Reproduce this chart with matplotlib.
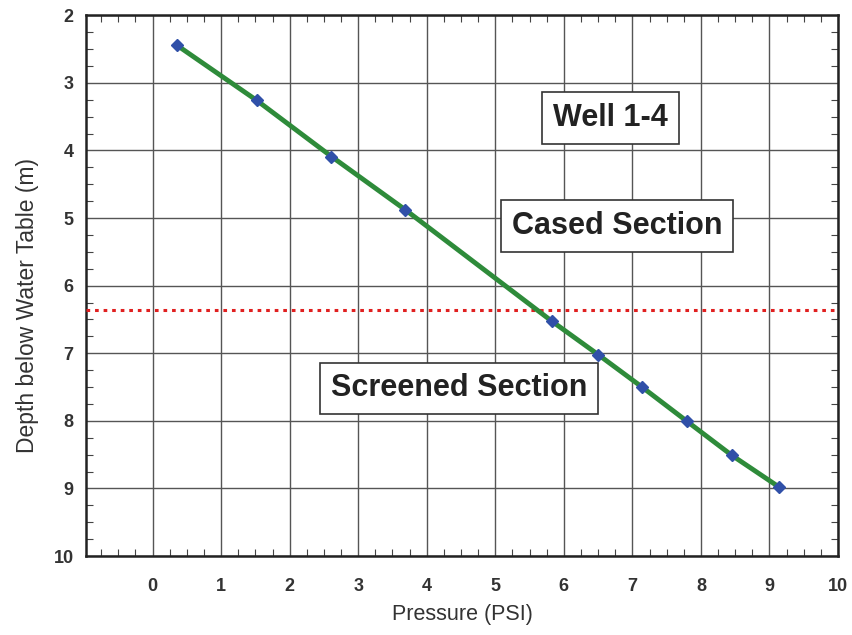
import matplotlib.pyplot as plt
from matplotlib.ticker import MultipleLocator

plt.rcParams['font.family'] = ['Liberation Sans', 'DejaVu Sans']

# pressure readings down the well
pressure = [0.35, 1.52, 2.61, 3.69, 5.83, 6.50, 7.14, 7.80, 8.45, 9.14]
depth = [2.44, 3.26, 4.09, 4.88, 6.53, 7.02, 7.50, 8.01, 8.51, 8.98]
casing_bottom = 6.36

x_ticks = list(range(0, 11))
y_ticks = list(range(2, 11))

fig = plt.figure(figsize=(8.52, 6.35), dpi=100)
ax = fig.add_axes([0.101, 0.1244, 0.8826, 0.8516])

ax.set_xlim(-0.97, 10)
ax.set_ylim(10, 2)
ax.set_xticks(x_ticks)
ax.set_yticks(y_ticks)
ax.xaxis.set_minor_locator(MultipleLocator(0.25))
ax.yaxis.set_minor_locator(MultipleLocator(0.25))

ax.grid(True, which='major', color='#555555', linewidth=1.0)

ax.tick_params(which='both', direction='in', top=True, right=True,
               labeltop=False, labelright=False)
ax.tick_params(which='major', length=0)
ax.tick_params(which='minor', length=5, width=0.8, color='#444444')
ax.tick_params(axis='x', pad=16, labelsize=13, labelcolor='#333333')
ax.tick_params(axis='y', pad=9, labelsize=13, labelcolor='#333333')
for lab in ax.get_xticklabels() + ax.get_yticklabels():
    lab.set_fontweight('bold')

for s in ax.spines.values():
    s.set_linewidth(1.8)
    s.set_color('#222222')

ax.axhline(casing_bottom, color='#e02020', linestyle=(0, (1.2, 1.6)),
           linewidth=2.2, zorder=3)

ax.plot(pressure, depth, color='#2e8b3a', linewidth=3.5, zorder=4)
ax.plot(pressure, depth, linestyle='none', marker='D', markersize=6,
        color='#3050a8', zorder=5)

box = dict(boxstyle='square,pad=0.35', facecolor='white', edgecolor='#333333',
           linewidth=1.2)
ax.text(6.68, 3.52, 'Well 1-4', ha='center', va='center', fontsize=22,
        fontweight='bold', color='#222222', bbox=box, zorder=6)
ax.text(6.78, 5.12, 'Cased Section', ha='center', va='center', fontsize=22,
        fontweight='bold', color='#222222', bbox=box, zorder=6)
ax.text(4.47, 7.52, 'Screened Section', ha='center', va='center', fontsize=22,
        fontweight='bold', color='#222222', bbox=box, zorder=6)

ax.set_xlabel('Pressure (PSI)', fontsize=15.5, color='#333333', labelpad=6)
ax.set_ylabel('Depth below Water Table (m)', fontsize=16.5, color='#333333')
ax.yaxis.set_label_coords(-0.062, 0.464)

fig.savefig('out.png', dpi=100)
